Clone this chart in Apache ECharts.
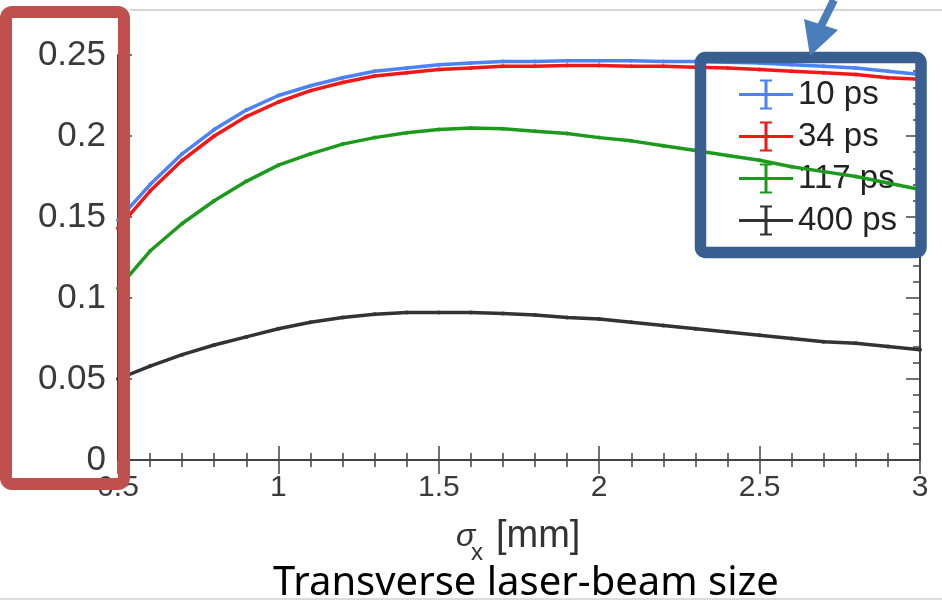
<!DOCTYPE html>
<html>
<head>
<meta charset="utf-8">
<script src="https://cdn.jsdelivr.net/npm/echarts@6/dist/echarts.min.js"></script>
<style>
  html, body { margin: 0; padding: 0; background: #fff; }
  #chart { width: 942px; height: 606px; }
</style>
</head>
<body>
<div id="chart"></div>
<script>
// beam size sigma_x [mm]
const sigmaX = [0.5, 0.6, 0.7, 0.8, 0.9, 1.0, 1.1, 1.2, 1.3, 1.4, 1.5, 1.6, 1.7,
  1.8, 1.9, 2.0, 2.1, 2.2, 2.3, 2.4, 2.5, 2.6, 2.7, 2.8, 2.9, 3.0]
const legendNames = ['10 ps', '34 ps', '117 ps', '400 ps']
const eff10ps = [0.148, 0.170, 0.189, 0.204, 0.216, 0.225, 0.231, 0.236, 0.240, 0.242,
  0.244, 0.245, 0.246, 0.246, 0.2465, 0.2465, 0.2465, 0.246, 0.246, 0.2455, 0.245,
  0.244, 0.243, 0.242, 0.240, 0.238]
const eff34ps = [0.143, 0.166, 0.185, 0.200, 0.212, 0.221, 0.228, 0.233, 0.237, 0.239,
  0.241, 0.242, 0.243, 0.243, 0.2435, 0.2435, 0.243, 0.243, 0.2425, 0.242, 0.241,
  0.240, 0.239, 0.238, 0.236, 0.235]
const eff117ps = [0.106, 0.129, 0.146, 0.160, 0.172, 0.182, 0.189, 0.195, 0.199, 0.202,
  0.204, 0.205, 0.2045, 0.203, 0.2015, 0.199, 0.197, 0.194, 0.191, 0.188, 0.185,
  0.181, 0.178, 0.175, 0.171, 0.167]
const eff400ps = [0.050, 0.058, 0.065, 0.071, 0.076, 0.081, 0.085, 0.088, 0.090, 0.091,
  0.091, 0.091, 0.0905, 0.0895, 0.088, 0.087, 0.085, 0.083, 0.081, 0.079, 0.077,
  0.075, 0.073, 0.072, 0.070, 0.068]
const lineColors = ['#4c82f5', '#f01818', '#1d9a1d', '#333333']

const allSeries = [eff10ps, eff34ps, eff117ps, eff400ps]
const chartInstance = echarts.init(document.getElementById('chart'))

const axisFont = 'Liberation Sans, Arial, sans-serif'
const axisColor = '#444'
// error-bar style legend glyph
const crossIcon = 'path://M0,13.5h54v3h-54z M25.5,0h3v30h-3z M21,0h12v2h-12z M21,28h12v2h-12z'

const frameAxis = {
  type: 'value',
  axisLine: { show: true, lineStyle: { color: axisColor, width: 2 } },
  axisTick: { show: true, inside: true, length: 14, lineStyle: { color: axisColor, width: 1.5 } },
  minorTick: { show: true, splitNumber: 5, length: 7, lineStyle: { color: axisColor, width: 1.5 } },
  splitLine: { show: false }
}

const option = {
  animation: false,
  title: {
    text: 'Transverse laser-beam size',
    left: 268,
    top: 559,
    textStyle: { fontFamily: 'Noto Sans', fontSize: 40, fontWeight: 'normal', color: '#000' }
  },
  grid: { left: 118, right: 22, top: 55, bottom: 146 },
  legend: {
    orient: 'vertical',
    left: 739,
    top: 78,
    padding: 0,
    itemWidth: 54,
    itemHeight: 30,
    itemGap: 9,
    data: legendNames.map(n => ({ name: n, icon: crossIcon })),
    textStyle: { fontFamily: axisFont, fontSize: 33, color: '#222' }
  },
  xAxis: [
    Object.assign({}, frameAxis, {
      min: 0.5, max: 3, interval: 0.5,
      axisLabel: { fontFamily: axisFont, fontSize: 30, color: '#3a3a3a', margin: 13 }
    }),
    Object.assign({}, frameAxis, {
      position: 'top', min: 0.5, max: 3, interval: 0.5,
      axisLabel: { show: false }
    })
  ],
  yAxis: [
    Object.assign({}, frameAxis, {
      min: 0, max: 0.25, interval: 0.05,
      axisLabel: { fontFamily: axisFont, fontSize: 35, color: '#3a3a3a', margin: 12 }
    }),
    Object.assign({}, frameAxis, {
      position: 'right', min: 0, max: 0.25, interval: 0.05,
      axisLabel: { show: false }
    })
  ],
  series: allSeries.slice().reverse().map((vals, k) => {
    const i = allSeries.length - 1 - k
    return {
      name: legendNames[i],
      type: 'line',
      data: sigmaX.map((x, j) => [x, vals[j]]),
      symbol: 'circle',
      symbolSize: 4,
      lineStyle: { color: lineColors[i], width: 3.5 },
      itemStyle: { color: lineColors[i] },
      z: 2 + i
    }
  }),
  graphic: [
    // axis title sigma_x [mm]
    { type: 'text', left: 456, top: 521, z: 10,
      style: { text: 'σ', font: 'italic 32px Liberation Sans', fill: '#333' } },
    { type: 'text', left: 471, top: 541, z: 10,
      style: { text: 'x', font: '24px Liberation Sans', fill: '#333' } },
    { type: 'text', left: 496, top: 518, z: 10,
      style: { text: '[mm]', font: '38px Liberation Sans', fill: '#333' } },
    // slide guide lines
    { type: 'line', z: 1, shape: { x1: 130, y1: 10, x2: 942, y2: 10 },
      style: { stroke: '#c8c8c8', lineWidth: 1.5 } },
    { type: 'line', z: 1, shape: { x1: 0, y1: 599, x2: 942, y2: 599 },
      style: { stroke: '#d0d0d0', lineWidth: 1.5 } },
    // red box round the y labels
    { type: 'rect', z: 20, shape: { x: 6, y: 12, width: 118, height: 472, r: 6 },
      style: { fill: 'none', stroke: '#c0504d', lineWidth: 12 } },
    // blue box round the legend
    { type: 'rect', z: 20, shape: { x: 700.5, y: 57.5, width: 220.5, height: 195, r: 5 },
      style: { fill: 'none', stroke: '#385f8f', lineWidth: 11.5 } },
    // arrow
    { type: 'line', z: 21, shape: { x1: 834, y1: 0, x2: 821, y2: 26 },
      style: { stroke: '#4a7ebb', lineWidth: 8 } },
    { type: 'polygon', z: 21, shape: { points: [[804, 19], [838, 30], [810, 56]] },
      style: { fill: '#4a7ebb' } }
  ]
}
chartInstance.setOption(option)
</script>
</body>
</html>
